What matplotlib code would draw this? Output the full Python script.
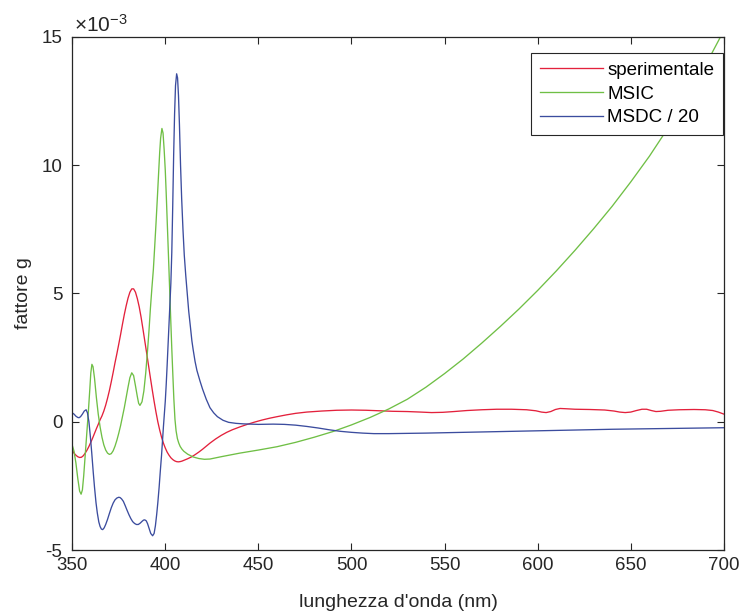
import matplotlib
matplotlib.use("Agg")
import numpy as np
import matplotlib.pyplot as plt

plt.rcParams['font.family'] = ['Liberation Sans', 'DejaVu Sans']
plt.rcParams['axes.unicode_minus'] = False
plt.rcParams['mathtext.default'] = 'regular'

# valori (fattore g in unita' di 1e-3)
lam_sper = [350, 351, 352, 353, 354, 355, 356, 357, 358, 359, 360, 361, 362, 363, 364, 365, 366,
            367, 368, 369, 370, 371, 372, 373, 374, 375, 376, 377, 378, 379, 380, 381, 382, 383,
            384, 385, 386, 387, 388, 389, 390, 391, 392, 393, 394, 395, 396, 397, 398, 399, 400,
            401, 402, 403, 404, 405, 406, 407, 408, 409, 410, 412, 414, 416, 418, 420, 422, 424,
            427, 430, 433, 436, 440, 444, 448, 452, 456, 460, 465, 470, 476, 484, 492, 500, 508,
            515, 522, 530, 537, 543, 549, 555, 562, 570, 578, 586, 594, 599, 602, 604.5, 607,
            609.5, 612, 615, 620, 628, 636, 641, 644, 647, 650, 653, 656, 658.5, 661, 663.5, 666,
            670, 676, 684, 690, 694, 697, 700]
g_sper = [-1.1, -1.22, -1.3, -1.36, -1.39, -1.38, -1.32, -1.22, -1.1, -0.96, -0.8, -0.63, -0.45,
          -0.27, -0.1, 0.08, 0.23, 0.42, 0.65, 0.92, 1.22, 1.56, 1.92, 2.3, 2.65, 3.02, 3.4, 3.8,
          4.18, 4.52, 4.82, 5.05, 5.18, 5.18, 5.05, 4.8, 4.48, 4.08, 3.62, 3.15, 2.68, 2.2, 1.72,
          1.25, 0.8, 0.38, 0.0, -0.32, -0.6, -0.83, -1.02, -1.18, -1.3, -1.4, -1.47, -1.52, -1.55,
          -1.56, -1.55, -1.53, -1.5, -1.44, -1.37, -1.28, -1.18, -1.07, -0.95, -0.83, -0.67, -0.53,
          -0.41, -0.31, -0.2, -0.1, -0.01, 0.07, 0.14, 0.2, 0.27, 0.33, 0.38, 0.42, 0.45, 0.46,
          0.45, 0.43, 0.41, 0.4, 0.38, 0.36, 0.37, 0.4, 0.44, 0.47, 0.49, 0.49, 0.47, 0.43, 0.38,
          0.36, 0.4, 0.48, 0.52, 0.51, 0.49, 0.48, 0.46, 0.42, 0.38, 0.36, 0.38, 0.44, 0.49, 0.49,
          0.44, 0.4, 0.41, 0.45, 0.47, 0.48, 0.47, 0.44, 0.38, 0.3]

lam_msic = [350, 351, 352, 353, 354, 354.8, 355.5, 356.2, 357, 357.8, 358.7, 359.5, 360, 360.6,
            361.2, 362, 363, 364, 365, 366, 367, 368, 369, 370, 371, 372, 373, 374, 375, 376, 377,
            378, 379, 380, 381, 382, 383, 384, 385, 385.7, 386.4, 387.5, 388.5, 389.5, 390.5,
            391.3, 392, 392.8, 393.6, 394.3, 395, 395.8, 396.5, 397, 397.5, 398.2, 398.8, 399.4,
            400, 400.5, 401, 401.5, 402, 402.5, 403, 403.5, 404, 404.6, 405.2, 405.8, 406.5,
            407.2, 408, 409, 410, 412, 415, 418, 421, 424, 430, 440, 450, 460, 470, 480, 490,
            500, 510, 520, 530, 540, 550, 560, 570, 580, 590, 600, 610, 620, 630, 640, 650, 660,
            670, 680, 690, 700]
g_msic = [-0.9, -1.15, -1.6, -2.2, -2.7, -2.82, -2.65, -2.1, -1.3, -0.5, 0.4, 1.3, 1.9, 2.24,
          2.15, 1.7, 0.95, 0.3, -0.2, -0.6, -0.9, -1.1, -1.22, -1.27, -1.24, -1.13, -0.95, -0.72,
          -0.45, -0.15, 0.2, 0.55, 0.95, 1.35, 1.72, 1.91, 1.8, 1.4, 0.98, 0.72, 0.64, 0.78, 1.2,
          1.9, 2.8, 3.6, 4.4, 5.2, 5.93, 6.8, 7.7, 8.8, 9.8, 10.5, 11.05, 11.43, 11.25, 10.6, 9.8,
          8.9, 7.9, 6.9, 5.9, 4.85, 3.85, 2.85, 1.95, 0.9, 0.1, -0.35, -0.65, -0.82, -0.96, -1.07,
          -1.15, -1.26, -1.37, -1.43, -1.46, -1.45, -1.36, -1.22, -1.1, -0.97, -0.8, -0.6, -0.38,
          -0.12, 0.17, 0.5, 0.88, 1.35, 1.88, 2.45, 3.07, 3.72, 4.4, 5.12, 5.88, 6.68, 7.52,
          8.4, 9.35, 10.35, 11.45, 12.62, 13.88, 15.25]

lam_msdc = [350, 351, 352, 353, 353.7, 354.5, 355.5, 356.5, 357.5, 358.2, 359, 359.8, 360.5,
            361.3, 362, 362.8, 363.5, 364.3, 365, 365.7, 366.4, 367.2, 368, 369, 370, 371, 372,
            373, 374, 375, 375.7, 376.5, 377.5, 378.5, 379.5, 380.5, 381.5, 382.5, 383.5, 384.5,
            385.5, 386.5, 387.5, 388.3, 389, 389.8, 390.5, 391.3, 392.2, 393.2, 394, 394.7, 395.4,
            396, 396.7, 397.3, 398, 398.5, 399, 399.5, 400, 400.5, 401, 401.5, 402, 402.5, 403,
            403.5, 404, 404.5, 405, 405.5, 406.1, 406.6, 407.1, 407.6, 408.2, 408.8, 409.5, 410.2,
            411, 411.8, 412.6, 413.5, 414.3, 415, 416, 417, 418.6, 420, 422, 424, 426, 428, 431,
            434, 438, 442, 450, 458, 464, 470, 476, 482, 488, 494, 500, 506, 512, 520, 540, 560,
            580, 600, 620, 640, 660, 680, 700]
g_msdc = [0.35, 0.3, 0.22, 0.17, 0.16, 0.2, 0.3, 0.42, 0.47, 0.35, 0.0, -0.6, -1.2, -1.95, -2.55,
          -3.15, -3.55, -3.9, -4.08, -4.18, -4.2, -4.13, -4.0, -3.8, -3.57, -3.35, -3.17, -3.04,
          -2.97, -2.94, -2.95, -3.0, -3.1, -3.27, -3.45, -3.62, -3.77, -3.89, -3.96, -4.0, -4.0,
          -3.95, -3.88, -3.83, -3.82, -3.86, -3.97, -4.15, -4.35, -4.44, -4.35, -4.05, -3.6,
          -3.15, -2.55, -1.95, -1.3, -0.75, -0.2, 0.3, 0.8, 1.45, 2.2, 3.0, 3.8, 4.6, 5.4, 6.6,
          8.4, 10.4, 12.0, 13.1, 13.56, 13.4, 12.7, 11.6, 10.0, 8.7, 7.5, 6.5, 5.7, 5.0, 4.3, 3.7,
          3.15, 2.8, 2.35, 2.0, 1.6, 1.28, 0.88, 0.55, 0.35, 0.2, 0.06, -0.02, -0.06, -0.08,
          -0.1, -0.09, -0.1, -0.13, -0.18, -0.24, -0.31, -0.37, -0.41, -0.44, -0.46, -0.46,
          -0.44, -0.41, -0.38, -0.35, -0.32, -0.29, -0.27, -0.25, -0.23]

etichette = ['sperimentale', 'MSIC', 'MSDC / 20']
colori = ['#e3213c', '#6fbf45', '#3b4c9e']

fig = plt.figure(figsize=(7.44, 6.14), dpi=100)
ax = fig.add_axes([0.097, 0.104, 0.876, 0.836])

ax.plot(lam_sper, g_sper, color=colori[0], lw=0.95, label=etichette[0])
ax.plot(lam_msic, g_msic, color=colori[1], lw=0.95, label=etichette[1])
ax.plot(lam_msdc, g_msdc, color=colori[2], lw=0.95, label=etichette[2])

ax.set_xlim(350, 700)
ax.set_ylim(-5, 15)
ax.set_xticks(np.arange(350, 701, 50))
ax.set_yticks(np.arange(-5, 16, 5))

ax.tick_params(direction='in', length=5, width=0.8, top=True, right=True,
               labelsize=13.5, colors='#262626')
ax.tick_params(axis='y', pad=7)
ax.tick_params(axis='x', pad=5)
for s in ax.spines.values():
    s.set_linewidth(0.9)
    s.set_color('#262626')

ax.text(0.003, 1.003, r'$\times10^{-3}$', transform=ax.transAxes, ha='left', va='bottom',
        fontsize=15, color='#262626')

ax.set_xlabel("lunghezza d'onda (nm)", fontsize=14, color='#262626', labelpad=14)
ax.set_ylabel("fattore g", fontsize=14, color='#262626', labelpad=7)

leg = ax.legend(loc='upper right', bbox_to_anchor=(0.998, 0.968), fontsize=13.5,
                fancybox=False, framealpha=1, edgecolor='#262626',
                handlelength=3.4, handletextpad=0.2, labelspacing=0.35,
                borderpad=0.45, borderaxespad=0)
leg.get_frame().set_linewidth(0.8)

fig.savefig('out.png', dpi=100)
